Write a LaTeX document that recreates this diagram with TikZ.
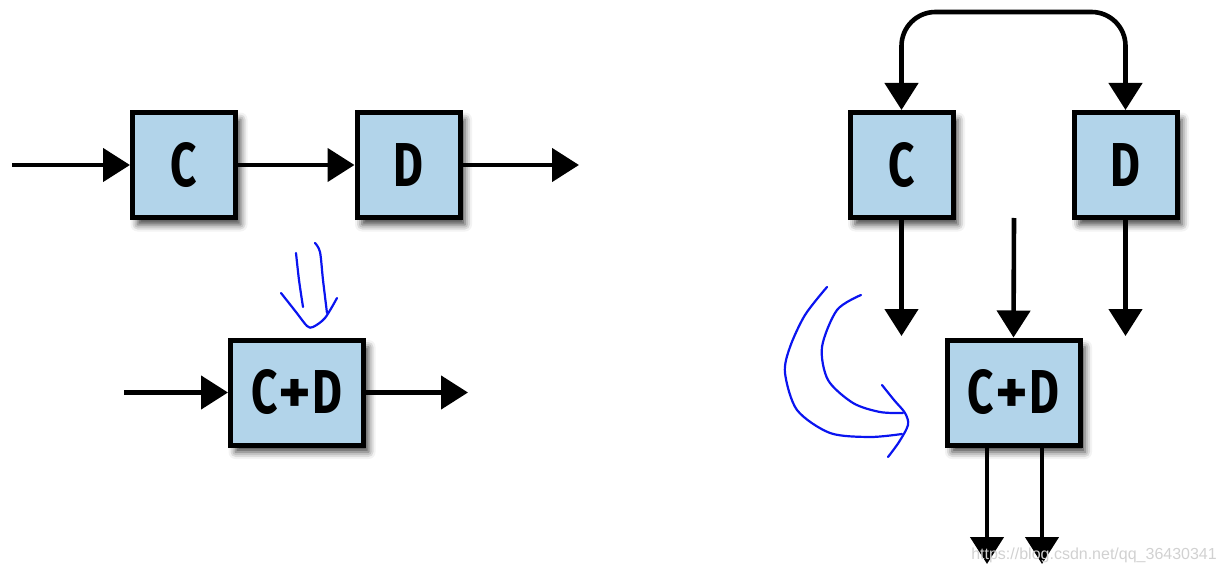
\documentclass[tikz,border=0pt]{standalone}
\usepackage{fontspec}
\setmainfont{Liberation Sans}
\newfontfamily\boxfont[FakeStretch=0.74]{Fira Sans}
\newfontfamily\plusfont{Fira Sans}
\newcommand{\cplusd}{C\kern1pt{\plusfont +}\kern1pt D}
\usetikzlibrary{arrows.meta,shadows.blur,calc}
\definecolor{boxblue}{RGB}{178,212,234}
\definecolor{pen}{RGB}{10,20,240}
\tikzset{
  blk/.style={draw=black, line width=5pt, fill=boxblue, minimum width=103pt, minimum height=105pt,
    inner sep=0pt, font=\boxfont\bfseries\fontsize{62}{62}\selectfont,
    blur shadow={shadow xshift=5pt, shadow yshift=-7pt, shadow blur radius=7pt, shadow opacity=75}},
  wideblk/.style={blk, minimum width=133pt},
  arr/.style={line width=4.6pt, -{Triangle[length=27pt,width=33pt]}},
  darr/.style={line width=4.6pt, {Triangle[length=27pt,width=33pt]}-{Triangle[length=27pt,width=33pt]}, rounded corners=34pt},
  ink/.style={draw=pen, line width=2.2pt, line cap=round, line join=round},
}
\begin{document}
\begin{tikzpicture}[x=1pt,y=-1pt]
\useasboundingbox (0,0) rectangle (1225,577);
% left diagram
\node[blk] (C1) at (184,165) {C};
\node[blk] (D1) at (408.5,165) {D};
\coordinate (in1) at (12,165);
\coordinate (out1) at (579,165);
\draw[arr] (in1) -- (C1.west);
\draw[arr] (C1.east) -- (D1.west);
\draw[arr] (D1.east) -- (out1);
\node[wideblk] (CD1) at (297,392.5) {\cplusd};
\coordinate (in2) at (124,392.5);
\coordinate (out2) at (468,392.5);
\draw[arr] (in2) -- (CD1.west);
\draw[arr] (CD1.east) -- (out2);
% right diagram
\node[blk] (C2) at (901.5,165) {C};
\node[blk] (D2) at (1125.5,165) {D};
\node[wideblk] (CD2) at (1013.5,392.5) {\cplusd};
\coordinate (loop) at (1013.5,12);
\draw[darr] (C2.north) |- (loop) -| (D2.north);
\coordinate (cdown) at (901.5,336);
\coordinate (ddown) at (1125.5,336);
\coordinate (mid) at (1014,218);
\draw[arr] (C2.south) -- (cdown);
\draw[arr] (D2.south) -- (ddown);
\draw[arr] (mid) -- (CD2.north);
\coordinate (o1) at (987,564);
\coordinate (o2) at (1042,564);
\draw[arr] (CD2.south -| o1) -- (o1);
\draw[arr] (CD2.south -| o2) -- (o2);
% hand drawn ink
\draw[ink] plot[smooth] coordinates {(296,253) (299,280) (303,307)};
\draw[ink] plot[smooth] coordinates {(315,243) (320,252) (323,280) (327,313)};
\draw[ink] plot[smooth] coordinates {(281,293) (296,312) (307,326) (313,327) (325,318) (337,298)};
\draw[ink] plot[smooth] coordinates {(827,287) (805,315) (790,347) (785,373) (797,410) (830,433) (870,437) (902,434)};
\draw[ink] plot[smooth] coordinates {(861,295) (837,310) (822,347) (828,380) (853,403) (880,412) (903,413)};
\draw[ink] plot[smooth] coordinates {(882,385) (894,400) (905,413) (908,425) (899,442) (888,457)};
% watermark
\node[anchor=base east, text=black!18, font=\fontsize{16}{16}\selectfont, inner sep=0pt] (wm) at (1217,559) {https://blog.csdn.net/qq\_36430341};
\end{tikzpicture}
\end{document}
